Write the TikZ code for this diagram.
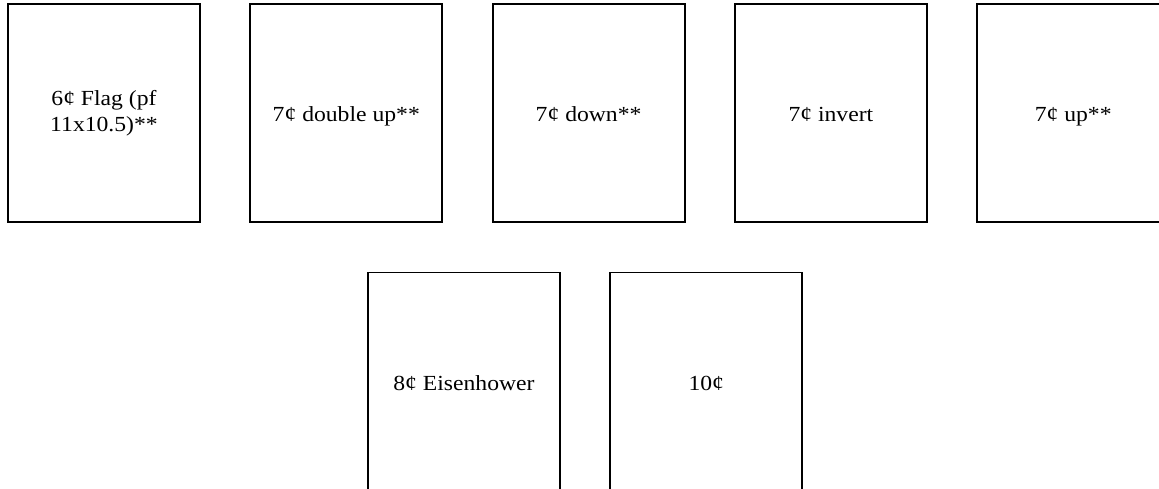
\documentclass[tikz,border=0pt]{standalone}
\usepackage{fontspec}
\setmainfont[FakeStretch=1.1]{Liberation Serif}
\usetikzlibrary{positioning}

\begin{document}
\begin{tikzpicture}[
    x=1pt, y=-1pt,
    stamp/.style={rectangle, draw=black, line width=1.8pt, minimum width=192pt, minimum height=218pt,
                  align=center, font=\fontsize{21.5}{24}\selectfont},
    oneline/.style={stamp, text height=19pt, text depth=2pt},
    node distance=48.5pt,
]
\useasboundingbox (0,0) rectangle (1159,489);
\clip (0,0) rectangle (1159,489);

% Top row
\node[stamp] (flag) at (104,113) {6¢ Flag (pf\\[2pt]11x10.5)**};
\node[oneline, right=of flag] (dblup) {7¢ double up**};
\node[oneline, right=of dblup] (down) {7¢ down**};
\node[oneline, right=of down] (invert) {7¢ invert};
\node[oneline, right=of invert] (up) {7¢ up**};

% Bottom row
\node[oneline] (eisen) at (464,381.5) {8¢ Eisenhower};
\node[oneline, right=of eisen] (ten) {10¢};

\end{tikzpicture}
\end{document}
